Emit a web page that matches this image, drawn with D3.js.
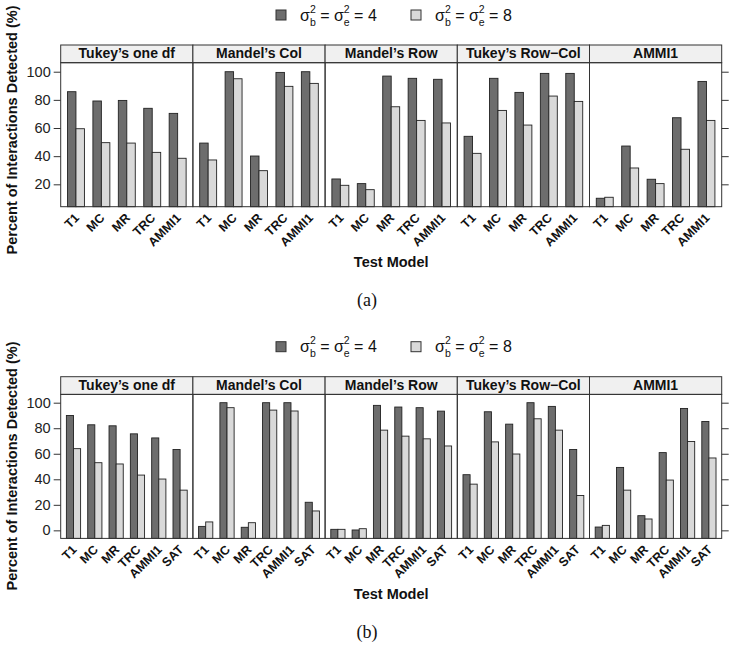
<!DOCTYPE html>
<html><head><meta charset="utf-8">
<script src="https://cdn.jsdelivr.net/npm/d3@7"></script>
<style>body{margin:0;background:#fff}svg{display:block}</style>
</head><body><svg id="c" width="734" height="650"></svg>
<script>
const panelNames = ["Tukey\u2019s one df","Mandel\u2019s Col","Mandel\u2019s Row","Tukey\u2019s Row\u2212Col","AMMI1"];
const modelsA = ["T1","MC","MR","TRC","AMMI1"];
const modelsB = ["T1","MC","MR","TRC","AMMI1","SAT"];
const seriesKeys = ["4","8"];
const aVar4 = [[85.8,79.2,79.6,74.0,70.4],[49.3,100,40.1,99.5,100],[23.8,20.5,96.9,95.3,94.6],[54.1,95.3,85.3,98.8,98.8],[10.1,47.2,23.6,67.3,93.1]];
const aVar8 = [[59.5,49.6,49.3,42.7,38.5],[37.3,95.0,29.7,89.6,91.7],[19.3,16.2,75.1,65.4,63.6],[42.0,72.5,62.1,82.7,78.9],[10.8,31.6,20.5,44.9,65.4]];
const bVar4 = [[90.0,82.7,81.9,75.6,72.4,63.3],[3.1,100,2.4,100,100,22.0],[0.8,0.3,97.9,96.6,96.1,93.4],[43.6,92.9,83.2,100,97.1,63.3],[2.6,49.3,11.5,60.9,95.5,85.3]];
const bVar8 = [[64.0,53.0,52.0,43.3,40.2,31.5],[6.6,96.1,6.0,94.2,93.5,15.2],[0.8,1.3,78.5,73.8,71.7,66.1],[36.2,69.3,59.8,87.4,78.5,27.3],[3.9,31.5,8.9,39.4,69.6,56.7]];
const ticksA = [20,40,60,80,100];
const ticksB = [0,20,40,60,80,100];
const captions = ["(a)","(b)"];

const svg = d3.select("#c");
const FONT = "'Liberation Sans', Arial, Helvetica, sans-serif";
const colors = {"4":"#6d6d6d","8":"#d9d9d9"};
const L = 60.7, R = 721.7;
const NB = "\u00a0";

function legend(g, y0){
  const items = [{k:"4", sx:276, tx:300},{k:"8", sx:411, tx:435}];
  items.forEach(it=>{
    g.append("rect").attr("x",it.sx).attr("y",y0+10).attr("width",10).attr("height",10)
      .attr("fill",colors[it.k]).attr("stroke","#333").attr("stroke-width",1);
    let x = it.tx; const base = y0+20.5;
    const part = (txt, size, dy, advance=true)=>{
      const t = g.append("text").attr("x",x).attr("y",base+dy).attr("font-family",FONT)
        .attr("font-size",size).attr("fill","#111").text(txt);
      const w = t.node().getComputedTextLength();
      if(advance) x += w;
      return w;
    };
    const sig = (sub)=>{
      part("\u03c3",16,0);
      const w1 = part("2",10.5,-8,false);
      const w2 = part(sub,10.5,5,false);
      x += Math.max(w1,w2);
    };
    sig("b"); part(NB+"="+NB,16,0); sig("e"); part(NB+"="+NB+it.k,16,0);
  });
}

function chart(y0, models, v4, v8, ticks, ydom, caption, ytitleC){
  const g = svg.append("g");
  legend(g, y0);
  const stripTop = y0+45, plotTop = y0+62.7, plotBot = y0+206.7;
  const y = d3.scaleLinear().domain(ydom).range([plotBot, plotTop]);
  const px = d3.scaleBand().domain(panelNames).range([L,R]).paddingInner(0).paddingOuter(0);
  panelNames.forEach((pn, pi)=>{
    const x0 = px(pn), x1 = x0+px.bandwidth();
    const xc = d3.scalePoint().domain(models).range([x0,x1]).padding(0.6);
    const gw = xc.step()*2/3;
    const xs = d3.scaleBand().domain(seriesKeys).range([-gw/2, gw/2]);
    const pg = g.append("g");
    pg.append("rect").attr("x",x0).attr("y",stripTop).attr("width",x1-x0).attr("height",plotTop-stripTop)
      .attr("fill","#f0f0f0").attr("stroke","#333").attr("stroke-width",1);
    pg.append("text").attr("x",(x0+x1)/2).attr("y",plotTop-4.3).attr("text-anchor","middle")
      .attr("font-family",FONT).attr("font-weight","bold").attr("font-size",14).attr("fill","#111").text(pn);
    const rows = models.map((m,i)=>({m, vals:[{k:"4",v:v4[pi][i]},{k:"8",v:v8[pi][i]}]}));
    rows.forEach(r=>{
      pg.selectAll(null).data(r.vals).enter().append("rect")
        .attr("x",d=>xc(r.m)+xs(d.k)).attr("width",xs.bandwidth())
        .attr("y",d=>y(d.v)).attr("height",d=>plotBot-y(d.v))
        .attr("fill",d=>colors[d.k]).attr("stroke","#222").attr("stroke-width",0.9);
    });
    pg.selectAll(null).data(models).enter().append("text")
      .attr("transform",d=>`translate(${xc(d)+4},${plotBot+12}) rotate(-45)`)
      .attr("text-anchor","end").attr("font-family",FONT).attr("font-weight","bold")
      .attr("font-size",12.5).attr("fill","#111").text(d=>d);
    pg.append("rect").attr("x",x0).attr("y",plotTop).attr("width",x1-x0).attr("height",plotBot-plotTop)
      .attr("fill","none").attr("stroke","#333").attr("stroke-width",1);
  });
  const ax = g.append("g").attr("transform",`translate(${L},0)`)
    .call(d3.axisLeft(y).tickValues(ticks).tickSize(7).tickPadding(3));
  ax.select(".domain").remove();
  ax.selectAll("text").attr("font-family",FONT).attr("font-size",14.5).attr("fill","#222");
  ax.selectAll("line").attr("stroke","#333");
  const ar = g.append("g").attr("transform",`translate(${R},0)`)
    .call(d3.axisRight(y).tickValues(ticks).tickSize(7).tickFormat(""));
  ar.select(".domain").remove();
  ar.selectAll("line").attr("stroke","#333");
  g.append("text").attr("transform",`translate(17,${ytitleC}) rotate(-90)`).attr("text-anchor","middle")
    .attr("font-family",FONT).attr("font-weight","bold").attr("font-size",14.5).attr("fill","#111")
    .text("Percent of Interactions Detected (%)");
  g.append("text").attr("x",(L+R)/2).attr("y",y0+267).attr("text-anchor","middle")
    .attr("font-family",FONT).attr("font-weight","bold").attr("font-size",14.5).attr("fill","#111")
    .text("Test Model");
  g.append("text").attr("x",367).attr("y",y0+306).attr("text-anchor","middle")
    .attr("font-family","'Liberation Serif', 'Times New Roman', serif").attr("font-size",18).attr("fill","#111")
    .text(caption);
}

chart(0, modelsA, aVar4, aVar8, ticksA, [4.1,106.4], captions[0], 130);
chart(331.7, modelsB, bVar4, bVar8, ticksB, [-6.3,106.5], captions[1], 466);
</script></body></html>
